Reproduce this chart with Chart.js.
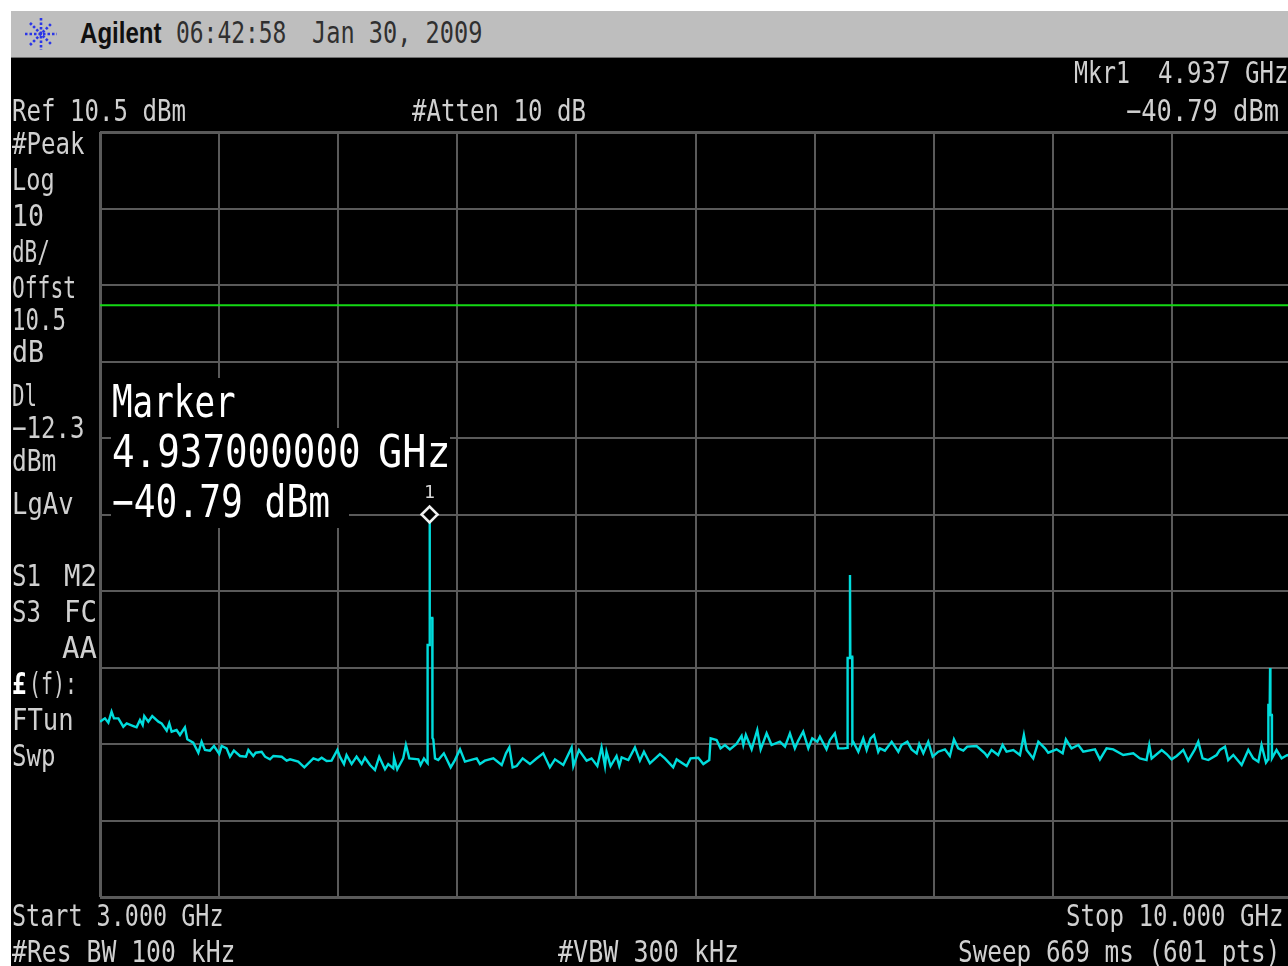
<!DOCTYPE html>
<html>
<head>
<meta charset="utf-8">
<title>Agilent spectrum</title>
<script src="https://cdn.jsdelivr.net/npm/chart.js@4/dist/chart.umd.min.js"></script>
<style>
html, body { margin: 0; padding: 0; background: #fff; overflow: hidden; }
#screen { position: absolute; left: 0; top: 0; width: 1288px; height: 966px; overflow: hidden; }
#bar { position: absolute; left: 11px; top: 11px; width: 1277px; height: 46px; background: #bebebe; border-bottom: 1px solid #707070; }
#myChart { position: absolute; left: 11px; top: 58px; background: #000; }
.box { position: absolute; background: #000; }
.txt { position: absolute; white-space: pre; line-height: 0; transform-origin: left center; font-family: "DejaVu Sans Mono", monospace; }
</style>
</head>
<body>
<div id="screen">
    <div id="bar"></div>
    <svg style="position:absolute;left:24px;top:17px" width="34" height="34" viewBox="-17 -17 34 34">
        <g stroke="#2a35e8" stroke-width="2.6" stroke-dasharray="2.5 2">
            <line x1="0" y1="-16" x2="0" y2="16"/>
            <line x1="-16" y1="0" x2="16" y2="0"/>
            <line x1="-11" y1="-11" x2="11" y2="11"/>
            <line x1="-11" y1="11" x2="11" y2="-11"/>
        </g>
    </svg>
    <canvas id="myChart" width="1310" height="908"></canvas>
</div>
<script>
// sweep: frequency in GHz, level in dBm
let freqs = [
    3.000, 3.029, 3.049, 3.068, 3.082, 3.108, 3.137, 3.157, 3.196, 3.215, 3.235, 3.251, 3.260, 3.284, 3.307, 3.343,
    3.362, 3.392, 3.407, 3.421, 3.450, 3.470, 3.499, 3.513, 3.548, 3.578, 3.597, 3.617, 3.646, 3.670, 3.701, 3.715,
    3.744, 3.764, 3.787, 3.823, 3.858, 3.872, 3.901, 3.915, 3.950, 3.970, 3.999, 4.019, 4.068, 4.097, 4.117, 4.165,
    4.201, 4.254, 4.283, 4.303, 4.332, 4.361, 4.395, 4.410, 4.434, 4.449, 4.479, 4.508, 4.538, 4.557, 4.587, 4.616,
    4.641, 4.675, 4.694, 4.724, 4.728, 4.747, 4.782, 4.798, 4.818, 4.871, 4.884, 4.904, 4.923,
    4.925, 4.926, 4.935, 4.937, 4.939, 4.953, 4.954,
    4.959, 4.969, 4.988, 5.021, 5.061, 5.086, 5.116, 5.145, 5.214,
    5.233, 5.262, 5.312, 5.361, 5.386, 5.406, 5.425, 5.449, 5.484, 5.527, 5.562, 5.605, 5.644, 5.674, 5.723, 5.746,
    5.772, 5.782, 5.815, 5.860, 5.889, 5.923, 5.948, 5.968, 5.977, 6.001, 6.036, 6.052, 6.066, 6.105, 6.144, 6.173,
    6.197, 6.232, 6.291, 6.320, 6.369, 6.389, 6.448, 6.471, 6.516, 6.546, 6.581, 6.589, 6.624, 6.647, 6.673, 6.702,
    6.741, 6.771, 6.781, 6.796, 6.830, 6.863, 6.883, 6.918, 6.947, 6.996, 7.026, 7.055, 7.084, 7.104, 7.133, 7.163,
    7.186, 7.216, 7.231, 7.270, 7.290, 7.319, 7.339, 7.372,
    7.393, 7.394, 7.406, 7.408, 7.410, 7.421, 7.422,
    7.427, 7.457, 7.486, 7.506, 7.529, 7.549, 7.574,
    7.584, 7.613, 7.653, 7.692, 7.711, 7.745, 7.770, 7.800, 7.815, 7.839, 7.868, 7.894, 7.927, 7.966, 7.995, 8.019,
    8.044, 8.074, 8.097, 8.152, 8.201, 8.215, 8.240, 8.279, 8.305, 8.328, 8.368, 8.407, 8.430, 8.446, 8.485, 8.515,
    8.554, 8.573, 8.622, 8.658, 8.677, 8.710, 8.750, 8.779, 8.848, 8.877, 8.916, 8.955, 9.014, 9.073, 9.112, 9.151,
    9.167, 9.181, 9.240, 9.269, 9.298, 9.328, 9.367, 9.396, 9.435, 9.455, 9.480, 9.514, 9.563, 9.582, 9.612, 9.631,
    9.661, 9.710, 9.749, 9.778, 9.808, 9.827, 9.853,
    9.866, 9.867, 9.875, 9.877, 9.879, 9.887, 9.888,
    9.915, 9.945, 9.978, 10.000
];
let levels = [
    -66.58, -66.15, -66.71, -65.27, -66.15, -66.15, -67.24, -66.80, -67.15, -67.32, -66.36, -67.02, -65.84, -66.58, -65.84, -66.58,
    -66.80, -67.76, -66.80, -67.89, -67.67, -68.32, -67.32, -68.89, -69.33, -70.64, -69.20, -70.28, -70.37, -69.76, -70.81, -69.76,
    -70.07, -71.16, -70.37, -71.07, -71.16, -70.28, -71.07, -70.64, -70.51, -71.16, -71.51, -71.07, -71.16, -71.68, -71.51, -71.81,
    -72.55, -71.38, -71.60, -71.29, -71.73, -71.68, -70.28, -71.16, -72.12, -70.94, -72.12, -71.16, -72.12, -71.29, -72.25, -72.90,
    -71.16, -72.81, -72.12, -72.68, -71.29, -72.81, -71.38, -69.63, -71.38, -71.51, -72.25, -71.38, -71.94,
    -72.00, -56.56, -56.56, -39.43, -53.03, -53.03, -68.70,
    -68.89, -71.38, -71.60, -70.72, -72.55, -71.60, -70.20, -71.81, -71.38,
    -72.12, -71.68, -71.38, -72.25, -70.72, -69.94, -72.55, -72.38, -71.38, -72.12, -71.46, -70.72, -72.55, -71.51, -72.25, -71.16,
    -69.94, -72.38, -70.28, -71.68, -71.38, -72.38, -69.94, -72.38, -70.51, -72.38, -71.07, -72.38, -71.25, -71.60, -69.94, -71.68,
    -70.51, -72.03, -70.81, -71.38, -72.55, -71.51, -72.38, -71.38, -71.29, -72.12, -71.60, -68.76, -68.98, -70.07, -69.63, -70.20,
    -69.50, -68.45, -69.63, -68.32, -70.20, -67.67, -70.20, -68.11, -69.63, -69.20, -69.85, -68.11, -70.07, -69.06, -67.89, -70.07,
    -68.76, -69.20, -68.54, -70.20, -68.98, -68.11, -70.07, -70.07,
    -70.00, -58.26, -58.26, -47.40, -58.10, -58.10, -69.40,
    -69.20, -70.51, -68.76, -70.28, -68.76, -68.32, -70.51,
    -70.07, -70.37, -69.20, -70.51, -69.63, -69.20, -70.20, -70.72, -69.50, -70.72, -69.20, -71.16, -70.51, -70.20, -71.07, -68.89,
    -70.07, -70.37, -69.85, -69.76, -70.72, -71.16, -70.28, -70.94, -69.63, -70.51, -70.28, -70.94, -68.32, -70.28, -71.38, -69.20,
    -70.07, -70.64, -70.20, -70.72, -68.89, -70.07, -69.63, -70.51, -70.20, -71.51, -70.07, -70.20, -70.94, -70.72, -71.38, -71.60,
    -69.63, -71.38, -70.28, -70.81, -71.51, -71.07, -70.28, -71.68, -70.20, -69.20, -71.38, -71.60, -70.94, -70.28, -69.85, -71.60,
    -70.94, -72.25, -70.28, -71.38, -71.81, -69.63, -71.94,
    -71.50, -64.40, -64.40, -59.57, -65.70, -65.70, -71.38,
    -70.28, -71.38, -70.94, -71.20
];

// display line and marker as drawn on the screen
let displayLineFreqs = [3, 10];
let displayLineLevels = [-12.15, -12.15];
let markerFreqs = [4.937];
let markerLevels = [-39.5];

let screen = document.getElementById("screen");

function toPoints(xs, ys) {
    return xs.map(function (x, i) { return { x: x, y: ys[i] }; });
}

// real text placed by baseline; advance is the character pitch in px
function label(text, x, base, opts) {
    opts = opts || {};
    let size = opts.size || 30;
    let advance = opts.advance || 14.5;
    let el = document.createElement("span");
    el.className = "txt";
    el.textContent = text;
    el.style.left = x + "px";
    el.style.top = (base - 0.346 * size) + "px";
    el.style.fontSize = size + "px";
    el.style.color = opts.color || "#d0d0d0";
    if (opts.bold) el.style.fontWeight = "bold";
    if (opts.family) el.style.fontFamily = opts.family;
    el.style.transform = "scaleX(" + (opts.scale || advance / (0.602 * size)) + ")";
    screen.appendChild(el);
}

function box(x, y, w, h) {
    let el = document.createElement("div");
    el.className = "box";
    el.style.left = x + "px";
    el.style.top = y + "px";
    el.style.width = w + "px";
    el.style.height = h + "px";
    screen.appendChild(el);
}

let edgeWidth = function (ctx) {
    return (ctx.index === 0 || ctx.index === 10) ? 3 : 2;
};
let zeroWidth = function (scale) { scale.width = 0; };
let zeroHeight = function (scale) { scale.height = 0; };

let myChart = new Chart(document.getElementById("myChart").getContext("2d"), {
    type: "line",
    data: {
        datasets: [
            {
                data: toPoints(markerFreqs, markerLevels),
                borderColor: "#f0f0f0",
                backgroundColor: "#000",
                borderWidth: 2.5,
                pointStyle: "rectRot",
                pointRadius: 8,
                showLine: false,
                order: 0
            },
            {
                data: toPoints(displayLineFreqs, displayLineLevels),
                borderColor: "#14d814",
                borderWidth: 2,
                pointRadius: 0,
                order: 2
            },
            {
                data: toPoints(freqs, levels),
                borderColor: "#00dcdc",
                borderWidth: 2.4,
                pointRadius: 0,
                tension: 0,
                order: 1
            }
        ]
    },
    options: {
        responsive: false,
        animation: false,
        layout: { padding: { left: 89, top: 74, right: 30, bottom: 69 } },
        plugins: { legend: { display: false }, tooltip: { enabled: false } },
        scales: {
            x: {
                type: "linear",
                min: 3,
                max: 10,
                afterFit: zeroHeight,
                ticks: { display: false, stepSize: 0.7 },
                border: { display: false },
                grid: { color: "#5a5a5a", lineWidth: edgeWidth, drawTicks: false }
            },
            y: {
                min: -89.5,
                max: 10.5,
                afterFit: zeroWidth,
                ticks: { display: false, stepSize: 10 },
                border: { display: false },
                grid: { color: "#5a5a5a", lineWidth: edgeWidth, drawTicks: false }
            }
        }
    }
});

// black panels behind the marker readout
box(111, 378, 129, 50);
box(111, 428, 339, 50);
box(111, 478, 238, 50);

// title bar
label("Agilent", 80, 43, { family: '"Liberation Sans", sans-serif', bold: true, size: 29, scale: 0.83, color: "#101010" });
label("06:42:58", 176, 43, { color: "#303030", advance: 13.8 });
label("Jan 30, 2009", 312, 43, { color: "#303030", advance: 14.2 });

// top readouts
label("Mkr1", 1074, 83, { advance: 14 });
label("4.937 GHz", 1158, 83);
label("Ref 10.5 dBm", 12, 121);
label("#Atten 10 dB", 412, 121);
label("\u221240.79 dBm", 1126, 121, { advance: 15.3 });

// left column
label("#Peak", 12, 154);
label("Log", 12, 190, { advance: 14.2 });
label("10", 12, 226, { advance: 16 });
label("dB/", 12, 262, { advance: 12.6 });
label("Offst", 12, 298, { advance: 12.8 });
label("10.5", 12, 330, { advance: 13.5 });
label("dB", 12, 362, { advance: 16 });
label("Dl", 12, 406, { advance: 12.5 });
label("\u221212.3", 12, 438);
label("dBm", 12, 471, { advance: 14.8 });
label("LgAv", 12, 514, { advance: 15.4 });
label("S1", 12, 586);
label("M2", 64, 586, { advance: 16.5 });
label("S3", 12, 622);
label("FC", 64, 622, { advance: 16.5 });
label("AA", 62, 658, { advance: 17.5 });
label("\u00a3", 12, 694, { bold: true, color: "#fff" });
label("(f):", 29, 694, { advance: 12 });
label("FTun", 12, 730, { advance: 15.4 });
label("Swp", 12, 766);

// marker readout
label("Marker", 112, 418, { size: 45, advance: 20.6, color: "#fff" });
label("4.937000000", 112, 468, { size: 45, advance: 22.6, color: "#fff" });
label("GHz", 378, 468, { size: 45, advance: 24.2, color: "#fff" });
label("\u221240.79 dBm", 112, 518, { size: 45, advance: 21.8, color: "#fff" });
label("1", 424, 498, { size: 18, advance: 11, color: "#d8d8d8" });

// bottom readouts
label("Start 3.000 GHz", 12, 926, { advance: 14.1 });
label("Stop 10.000 GHz", 1066, 926);
label("#Res BW 100 kHz", 12, 962, { advance: 14.9 });
label("#VBW 300 kHz", 558, 962, { advance: 15.1 });
label("Sweep 669 ms (601 pts)", 958, 962, { advance: 14.65 });
</script>
</body>
</html>
